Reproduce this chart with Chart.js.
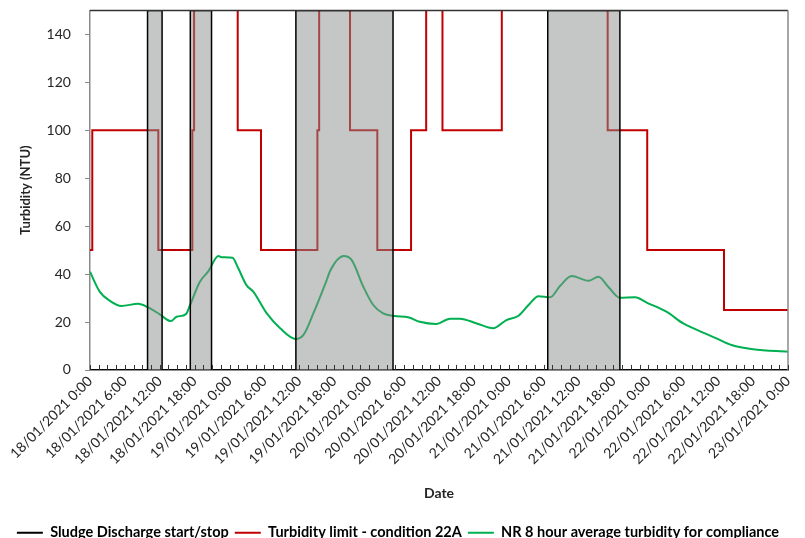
<!DOCTYPE html>
<html>
<head>
<meta charset="utf-8">
<script src="https://cdn.jsdelivr.net/npm/chart.js@4.4.0/dist/chart.umd.min.js"></script>
<style>
  html, body { margin: 0; padding: 0; background: #fff; }
  #wrap { width: 805px; height: 538px; }
</style>
</head>
<body>
<div id="wrap"><canvas id="c" width="805" height="538"></canvas></div>
<script>
(() => {
  "use strict";

  // Hours since 18/01/2021 0:00
  const xTickLabels = [
    "18/01/2021 0:00", "18/01/2021 6:00", "18/01/2021 12:00", "18/01/2021 18:00",
    "19/01/2021 0:00", "19/01/2021 6:00", "19/01/2021 12:00", "19/01/2021 18:00",
    "20/01/2021 0:00", "20/01/2021 6:00", "20/01/2021 12:00", "20/01/2021 18:00",
    "21/01/2021 0:00", "21/01/2021 6:00", "21/01/2021 12:00", "21/01/2021 18:00",
    "22/01/2021 0:00", "22/01/2021 6:00", "22/01/2021 12:00", "22/01/2021 18:00",
    "23/01/2021 0:00",
  ];

  // Sludge discharge on/off (150 = on, 0 = off), step changes
  const sludgeHours = [0, 9.9, 12.4, 17.25, 20.9, 35.4, 52.1, 78.7, 91.1, 120];
  const sludgeState = [0, 150, 0, 150, 0, 150, 0, 150, 0, 0];

  // Turbidity limit (condition 22A), step changes; 200 = off the top of the chart
  const limitHours = [0, 0.4, 11.75, 17.6, 17.9, 25.4, 29.4, 39.1, 39.4, 44.7, 49.4, 55.2, 57.8, 60.6, 70.8, 89.0, 95.8, 109.0, 120];
  const limitValues = [50, 100, 50, 100, 200, 100, 50, 100, 200, 100, 50, 100, 200, 100, 200, 100, 50, 25, 25];

  // NR 8 hour average turbidity
  const avgHours = [0, 1.7, 3.4, 5.4, 8.3, 10, 12, 13.9, 14.9, 16.5, 17.2, 18.9, 20.3, 22.1, 22.6, 24.5, 25.5, 26.9, 28.1,
    30.4, 32.7, 35.4, 36.7, 38.4, 40.7, 41.3, 43.6, 45, 47, 48.7, 50.4, 52.4, 54.7, 56.7, 59.5, 61.9, 63.6, 66.5, 69.3,
    71.6, 73.6, 75.4, 77.1, 79.1, 80.8, 82.8, 85.7, 87.4, 89.1, 91.1, 93.7, 95.7, 99.1, 102, 105.4, 107.7, 110.3, 114, 120];
  const avgValues = [41, 32.6, 28.9, 26.7, 27.6, 26.1, 23.2, 20.4, 22.2, 23.3, 27, 36.8, 41, 47.5, 47, 46.8, 42.4, 35.4, 32.6,
    23.6, 17.4, 12.9, 14.6, 23.6, 37.5, 41.4, 47.5, 45.8, 34.7, 27.1, 23.6, 22.5, 22, 20.1, 19.2, 21.4, 21.4, 19.4, 17.4,
    20.8, 22.5, 27.1, 30.8, 30.3, 35, 39.2, 37.2, 38.9, 34.7, 30.1, 30.3, 28.1, 24.3, 19.4, 15.6, 13.2, 10.4, 8.6, 7.6];

  const pts = (xs, ys) => xs.map((x, i) => ({ x, y: ys[i] }));

  Chart.defaults.font.family = "Lato, 'Liberation Sans', sans-serif";
  Chart.defaults.color = "#262626";

  // Frame, short outward ticks on the y axis, inward minor ticks on the date axis
  const frame = {
    id: "frame",
    afterDatasetsDraw(chart) {
      const { ctx, chartArea: a, scales: { x, y } } = chart;
      ctx.save();
      ctx.strokeStyle = "#333";
      ctx.lineWidth = 1.5;
      ctx.beginPath();
      ctx.moveTo(a.left, a.top);
      ctx.lineTo(a.right, a.top);
      ctx.stroke();
      ctx.strokeStyle = "#8a8a8a";
      ctx.beginPath();
      ctx.moveTo(a.right, a.top);
      ctx.lineTo(a.right, a.bottom);
      ctx.stroke();
      ctx.lineWidth = 1;
      y.ticks.forEach((t) => {
        const py = Math.round(y.getPixelForValue(t.value)) + 0.5;
        ctx.beginPath();
        ctx.moveTo(a.left - 5, py);
        ctx.lineTo(a.left, py);
        ctx.stroke();
      });
      ctx.strokeStyle = "#333";
      for (let h = 0; h <= 120.01; h += 1.5) {
        const px = Math.round(x.getPixelForValue(h)) + 0.5;
        ctx.beginPath();
        ctx.moveTo(px, a.bottom);
        ctx.lineTo(px, a.bottom - 5);
        ctx.stroke();
      }
      ctx.restore();
    },
  };

  new Chart(document.getElementById("c"), {
    type: "line",
    data: {
      datasets: [
        {
          label: "Sludge Discharge start/stop",
          data: pts(sludgeHours, sludgeState),
          stepped: "before",
          borderColor: "#000",
          borderWidth: 1.5,
          backgroundColor: "rgba(140,142,142,0.5)",
          fill: "origin",
          pointRadius: 0,
        },
        {
          label: "Turbidity limit - condition 22A",
          data: pts(limitHours, limitValues),
          stepped: "before",
          borderColor: "#c00000",
          borderWidth: 2,
          fill: false,
          pointRadius: 0,
        },
        {
          label: "NR 8 hour average turbidity for compliance",
          data: pts(avgHours, avgValues),
          borderColor: "#00b050",
          borderWidth: 2,
          cubicInterpolationMode: "monotone",
          fill: false,
          pointRadius: 0,
        },
      ],
    },
    options: {
      responsive: false,
      animation: false,
      layout: { padding: { left: 8, right: 17, top: 10, bottom: -12 } },
      plugins: {
        tooltip: { enabled: false },
        legend: {
          position: "bottom",
          labels: {
            font: { size: 14.5, weight: "bold" },
            color: "#1a1a1a",
            padding: 6,
            generateLabels: (chart) => chart.data.datasets.map((d, i) => ({
              text: d.label,
              fillStyle: d.borderColor,
              strokeStyle: d.borderColor,
              lineWidth: 0,
              datasetIndex: i,
            })),
            boxWidth: 26,
            boxHeight: 2,
          },
        },
      },
      scales: {
        x: {
          type: "linear",
          min: 0,
          max: 120,
          ticks: {
            stepSize: 6,
            autoSkip: false,
            maxRotation: 45,
            minRotation: 45,
            padding: 3,
            font: { size: 14 },
            callback: (v) => xTickLabels[Math.round(v / 6)],
          },
          grid: { drawOnChartArea: false, drawTicks: false },
          border: { color: "#222", width: 1.5 },
          title: { display: true, text: "Date", font: { size: 14, weight: "bold" }, padding: { top: 14, bottom: 18 } },
        },
        y: {
          min: 0,
          max: 150,
          afterBuildTicks: (axis) => { axis.ticks = axis.ticks.filter((t) => t.value <= 140); },
          ticks: { stepSize: 20, font: { size: 14 }, padding: 2 },
          grid: { drawOnChartArea: false, tickLength: 17, tickColor: "rgba(0,0,0,0)" },
          border: { color: "#8a8a8a", width: 1.5 },
          title: { display: true, text: "Turbidity (NTU)", font: { size: 13, weight: "bold" }, padding: { top: 10, bottom: 11 } },
        },
      },
    },
    plugins: [frame],
  });
})();
</script>
</body>
</html>
